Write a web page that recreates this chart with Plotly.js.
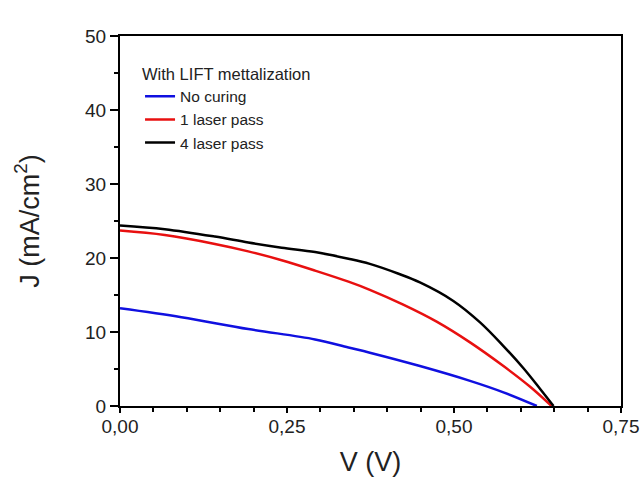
<!DOCTYPE html>
<html>
<head>
<meta charset="utf-8">
<script src="https://cdn.plot.ly/plotly-3.0.1.min.js"></script>
<style>html,body{margin:0;padding:0;background:#fff;}#chart{width:642px;height:477px;}</style>
</head>
<body>
<div id="chart"></div>
<script>
// Data
const vBlack = [0, 0.067, 0.142, 0.192, 0.242, 0.292, 0.342, 0.374, 0.416, 0.449, 0.499, 0.539, 0.574, 0.604, 0.629, 0.649];
const jBlack = [24.4, 23.9, 22.9, 22.1, 21.4, 20.8, 19.9, 19.2, 17.9, 16.7, 14.2, 11.3, 8.1, 5.1, 2.3, 0];
const vRed = [0, 0.067, 0.142, 0.192, 0.242, 0.292, 0.342, 0.374, 0.424, 0.474, 0.524, 0.574, 0.614, 0.646];
const jRed = [23.7, 23.1, 21.9, 20.9, 19.7, 18.3, 16.8, 15.7, 13.7, 11.4, 8.6, 5.4, 2.6, 0];
const vBlue = [0, 0.092, 0.192, 0.292, 0.342, 0.374, 0.449, 0.524, 0.574, 0.624];
const jBlue = [13.2, 12.0, 10.4, 9.0, 7.9, 7.2, 5.4, 3.4, 1.85, 0];
const seriesNames = ['No curing', '1 laser pass', '4 laser pass'];
const legendTitle = 'With LIFT mettalization';
const xTitle = 'V (V)';
const yTitle = 'J (mA/cm<sup>2</sup>)';

const font = 'Liberation Sans, Arial, sans-serif';
const traces = [
  {x: vBlue, y: jBlue, name: seriesNames[0], color: '#1010e0'},
  {x: vRed, y: jRed, name: seriesNames[1], color: '#e81010'},
  {x: vBlack, y: jBlack, name: seriesNames[2], color: '#000000'}
].map(s => ({
  x: s.x, y: s.y, name: s.name, type: 'scatter', mode: 'lines',
  line: {color: s.color, width: 2.5, shape: 'spline', smoothing: 1}
}));

const axisCommon = {
  showgrid: false, zeroline: false, showline: true, mirror: true,
  linecolor: '#000', linewidth: 2, ticks: 'outside', tickwidth: 2,
  tickcolor: '#000', tickfont: {family: font, size: 19, color: '#222'}
};

const layout = {
  width: 642, height: 477,
  margin: {l: 120, r: 21, t: 36, b: 71},
  paper_bgcolor: '#fff', plot_bgcolor: '#fff',
  separators: ',.',
  showlegend: true,
  legend: {
    x: 0.04, y: 0.94, xanchor: 'left', yanchor: 'top',
    bgcolor: 'rgba(0,0,0,0)', borderwidth: 0,
    font: {family: font, size: 15.5, color: '#222'},
    title: {text: legendTitle, font: {family: font, size: 16.5, color: '#222'}},
    tracegroupgap: 0, itemwidth: 30
  },
  xaxis: Object.assign({}, axisCommon, {
    range: [0, 0.75], dtick: 0.25, tick0: 0, tickformat: '.2f', ticklen: 5,
    ticklabelstandoff: -3,
    minor: {dtick: 0.05, ticks: 'outside', ticklen: 4, tickwidth: 2, tickcolor: '#000'},
    title: {text: xTitle, font: {family: font, size: 27, color: '#222'}, standoff: 30}
  }),
  yaxis: Object.assign({}, axisCommon, {
    range: [0, 50], dtick: 10, tick0: 0, ticklen: 8,
    minor: {dtick: 5, ticks: 'outside', ticklen: 4, tickwidth: 2, tickcolor: '#000'},
    title: {text: yTitle, font: {family: font, size: 27, color: '#222'}, standoff: 38}
  })
};

Plotly.newPlot('chart', traces, layout, {staticPlot: true, displayModeBar: false});
</script>
</body>
</html>
